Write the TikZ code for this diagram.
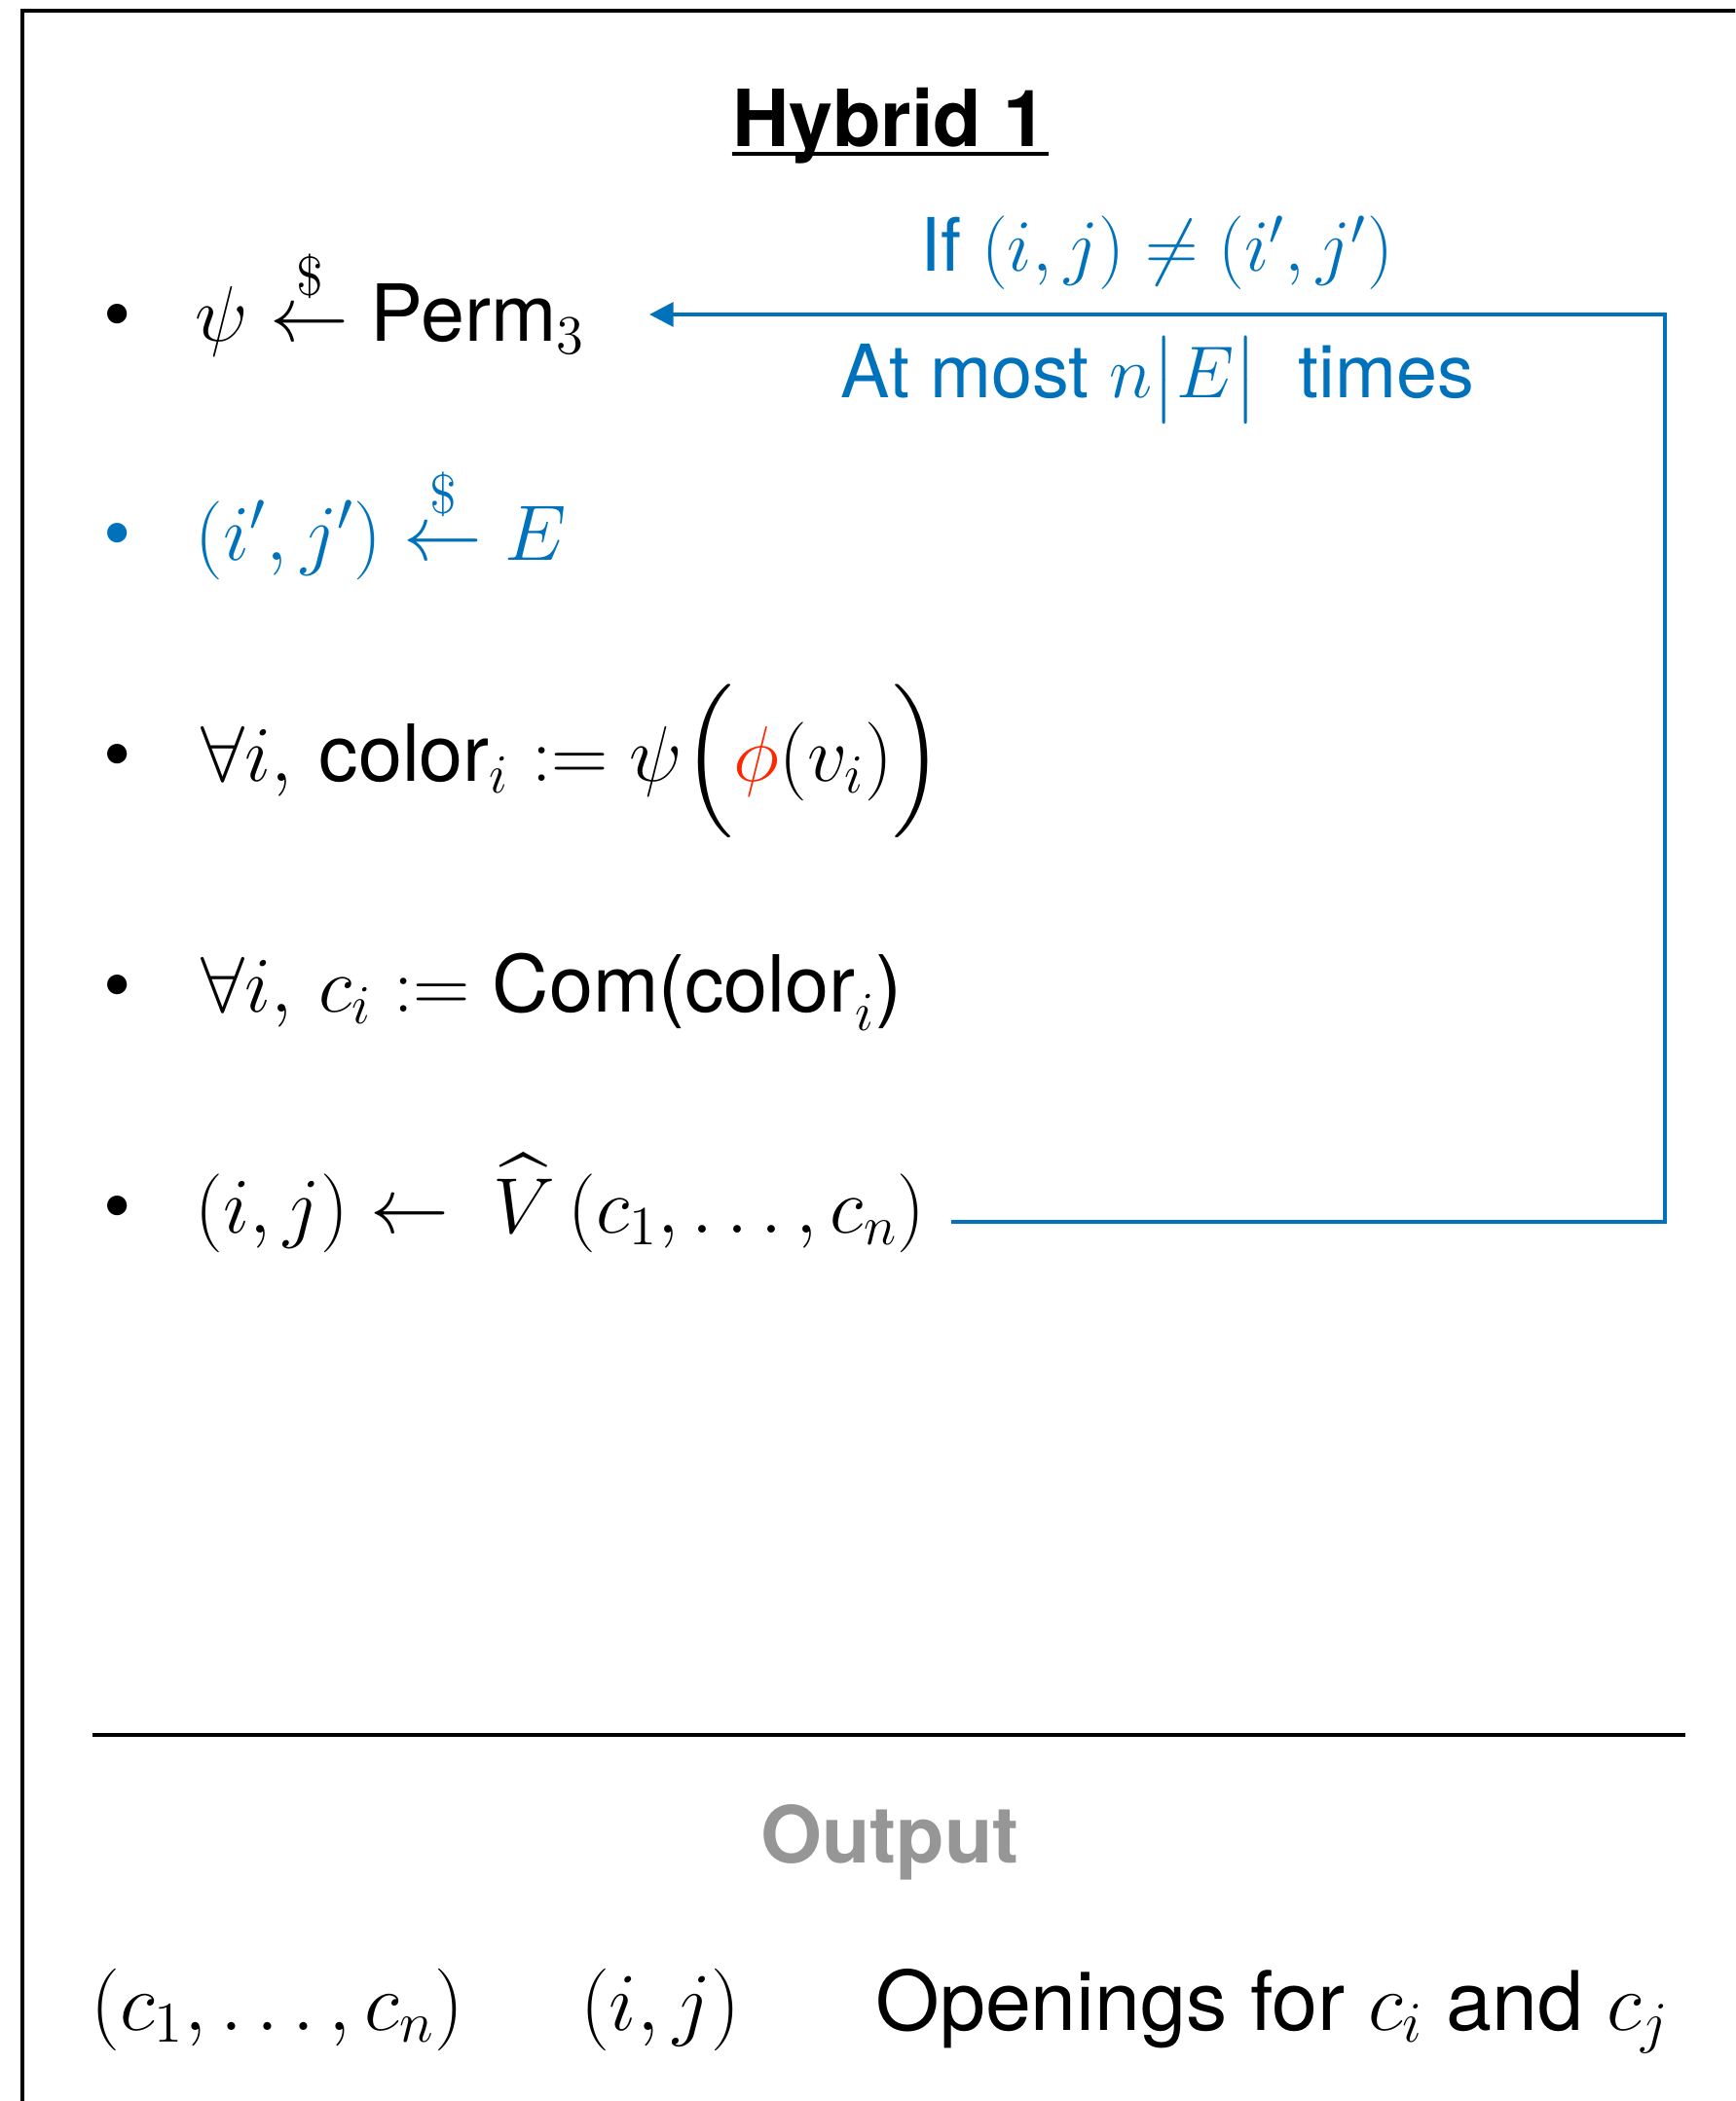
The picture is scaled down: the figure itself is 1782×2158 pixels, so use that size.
\RequirePackage{fix-cm}
\documentclass[tikz,border=0pt]{standalone}
\usepackage{amsmath}
\usepackage{fontspec}
\setmainfont{TeX Gyre Heros}
\usetikzlibrary{arrows.meta,calc,positioning}
\definecolor{loopblue}{RGB}{0,114,188}
\definecolor{phired}{RGB}{255,38,0}
\definecolor{outgray}{RGB}{150,150,150}

\begin{document}
\begin{tikzpicture}[x=0.01cm, y=-0.01cm,
  every node/.style={font=\fontsize{23}{28}\selectfont, inner sep=0pt},
  item/.style={anchor=base west},
  dot/.style={anchor=base},
  looplabel/.style={anchor=base, loopblue, font=\fontsize{21.5}{26}\selectfont},
  loopline/.style={loopblue, line width=1.15pt, -{Triangle[length=7pt,width=7pt]}}]
  \useasboundingbox (0,0) rectangle (1782,2158);
  \clip (0,0) rectangle (1782,2158);

  % Frame (runs off the page on the right and bottom)
  \draw[line width=1.3pt] (23,2300) -- (23,11) -- (1900,11);

  % Title
  \node[anchor=base, font=\fontsize{23}{28}\selectfont\bfseries] (title) at (914,151) {Hybrid 1};
  \draw[line width=1.3pt] ($(title.base west)+(0,7)$) -- ($(title.base east)+(0,7)$);

  % Steps
  \node[dot] (b1) at (121,351) {\textbullet};
  \node[item] (l1) at (200,351) {$\psi \overset{\$}{\leftarrow} \text{Perm}_3$};

  \node[dot, loopblue] (b2) at (121,575) {\textbullet};
  \node[item, loopblue] (l2) at (200,575) {$(i',j') \overset{\$}{\leftarrow} E$};

  \node[dot] (b3) at (121,802) {\textbullet};
  \node[item] (l3) at (206,802) {$\forall i,\,\text{color}_i \mathrel{:=} \psi\Big(\textcolor{phired}{\phi}(v_i)\Big)$};

  \node[dot] (b4) at (121,1039) {\textbullet};
  \node[item] (l4) at (206,1039) {$\forall i,\,c_i \mathrel{:=} \text{Com(color}_i\text{)}$};

  \node[dot] (b5) at (121,1266) {\textbullet};
  \node[item] (l5) at (200,1266) {$(i,j) \leftarrow \ \widehat{V}\,(c_1,\ldots,c_n)$};

  % Repeat loop
  \coordinate (loopstart) at (977,1255);
  \coordinate (loopturn) at (1710,1255);
  \coordinate (looptip) at (667,323);
  \draw[loopline] (loopstart) -- (loopturn) |- (looptip);
  \node[looplabel] (ifne) at (1188,279) {If $(i,j)\neq(i',j')$};
  \node[looplabel] (atmost) at (1189,409) {At most $n\big|E\big|$\ \ times};

  % Output
  \draw[line width=1.2pt] (95,1782) -- (1731,1782);
  \node[anchor=base, outgray, font=\fontsize{23}{28}\selectfont\bfseries] (outhead) at (914,1913) {Output};
  \begin{scope}[every node/.style={font=\fontsize{24}{29}\selectfont, inner sep=0pt, anchor=base}]
    \node (outc) at (285,2085) {$(c_1,\ldots,c_n)$};
    \node (outij) at (678,2085) {$(i,j)$};
    \node (outopen) at (1307,2085) {Openings for $c_i$ and $c_j$};
  \end{scope}

\end{tikzpicture}
\end{document}
